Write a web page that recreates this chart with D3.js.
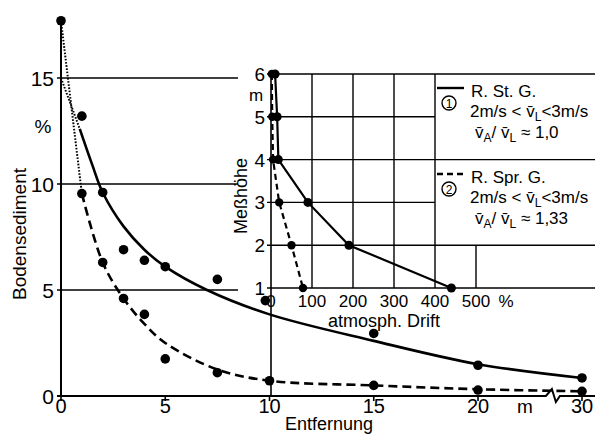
<!DOCTYPE html>
<html><head><meta charset="utf-8">
<script src="https://cdn.jsdelivr.net/npm/d3@7"></script>
<style>
html,body{margin:0;padding:0;background:#fff;}
svg{display:block;}
text{fill:#000;font-family:"Liberation Sans",Arial,sans-serif;}
.num{font-family:"Liberation Sans Narrow","Liberation Sans",sans-serif;}
</style></head>
<body>
<script>
// ---- data ----
const xTicks = [0, 5, 10, 15, 20, 30];
const yTicks = [0, 5, 10, 15];
const gridY = [5, 10, 15];
// fitted curves
const solidFitX = [0.9, 1.5, 2, 3, 4, 5, 7, 10, 15, 20, 30];
const solidFitY = [12.6, 10.9, 9.6, 8.0, 6.9, 6.1, 5.0, 3.85, 2.6, 1.5, 0.85];
const dashFitX = [1, 2, 3, 4, 5, 7.5, 10, 15, 20, 30];
const dashFitY = [9.55, 6.3, 4.6, 3.4, 2.5, 1.25, 0.72, 0.5, 0.32, 0.22];
// dotted extrapolations to the origin
const solidExtX = [0, 0.9], solidExtY = [15, 12.6];
const dashExtX = [0, 1], dashExtY = [17.7, 9.55];
// measured points
const solidPtX = [1, 2, 3, 4, 5, 7.5, 9.8, 15, 20, 30];
const solidPtY = [13.2, 9.6, 6.9, 6.4, 6.1, 5.5, 4.5, 2.95, 1.45, 0.85];
const dashPtX = [0, 1, 2, 3, 4, 5, 7.5, 10, 15, 20, 30];
const dashPtY = [17.7, 9.55, 6.3, 4.6, 3.85, 1.75, 1.1, 0.72, 0.5, 0.28, 0.22];
// inset: atmospheric drift vs measuring height
const driftTicks = [0, 100, 200, 300, 400, 500];
const heightTicks = [1, 2, 3, 4, 5, 6];
const stDrift = [10, 15, 18, 90, 190, 440];
const stHeight = [6, 5, 4, 3, 2, 1];
const sprDrift = [2, 3, 5, 20, 50, 78];
const sprHeight = [6, 5, 4, 3, 2, 1];

const W = 595, H = 435;
const svg = d3.select("body").append("svg").attr("width", W).attr("height", H);

// ---- scales ----
const x = d3.scaleLinear().domain([0, 20, 30]).range([61, 478, 582]);
const y = d3.scaleLinear().domain([0, 15]).range([396, 78]);
const ix = d3.scaleLinear().domain([0, 500]).range([271, 476]);
const iy = d3.scaleLinear().domain([1, 6]).range([288, 74]);

const ink = "#000";

// ---- main grid lines ----
svg.selectAll(".gy").data(gridY).enter().append("line")
  .attr("x1", 57).attr("x2", 238)
  .attr("y1", d => y(d)).attr("y2", d => y(d))
  .attr("stroke", ink).attr("stroke-width", 1.4);

// ---- inset grid ----
const fullH = [6, 4, 2, 1];
const shortH = [5, 3];
svg.selectAll(".ihf").data(fullH).enter().append("line")
  .attr("x1", ix(0) - 4).attr("x2", W)
  .attr("y1", d => iy(d)).attr("y2", d => iy(d))
  .attr("stroke", ink).attr("stroke-width", 1.4);
svg.selectAll(".ihs").data(shortH).enter().append("line")
  .attr("x1", ix(0) - 4).attr("x2", ix(400))
  .attr("y1", d => iy(d)).attr("y2", d => iy(d))
  .attr("stroke", ink).attr("stroke-width", 1.4);
svg.selectAll(".iv").data([100, 200, 300, 400]).enter().append("line")
  .attr("x1", d => ix(d)).attr("x2", d => ix(d))
  .attr("y1", iy(6)).attr("y2", iy(1))
  .attr("stroke", ink).attr("stroke-width", 1.4);
svg.append("line").attr("x1", ix(500)).attr("x2", ix(500))
  .attr("y1", iy(2)).attr("y2", iy(1)).attr("stroke", ink).attr("stroke-width", 1.4);
// inset zero axis, also x=10 line of main chart
svg.append("line").attr("x1", ix(0)).attr("x2", ix(0))
  .attr("y1", iy(6)).attr("y2", y(0)).attr("stroke", ink).attr("stroke-width", 1.6);

// ---- main axes ----
svg.append("line").attr("x1", x(0)).attr("x2", x(0))
  .attr("y1", y(0)).attr("y2", y(17.7)).attr("stroke", ink).attr("stroke-width", 2);
const bx = x(27.2), by = y(0);
const axisPath = d3.path();
axisPath.moveTo(57, by);
axisPath.lineTo(bx - 7, by);
axisPath.lineTo(bx - 1, by - 7);
axisPath.lineTo(bx + 3, by + 6);
axisPath.lineTo(bx + 7, by);
axisPath.lineTo(W, by);
svg.append("path").attr("d", axisPath.toString()).attr("fill", "none")
  .attr("stroke", ink).attr("stroke-width", 2).attr("stroke-linejoin", "miter");
svg.selectAll(".xt").data(xTicks).enter().append("line")
  .attr("x1", d => x(d)).attr("x2", d => x(d))
  .attr("y1", by).attr("y2", by + 5).attr("stroke", ink).attr("stroke-width", 1.6);

// tick labels
svg.selectAll(".xl").data(xTicks).enter().append("text").attr("class", "num")
  .attr("x", d => x(d)).attr("y", 413).attr("text-anchor", "middle")
  .attr("font-size", 20).text(d => d);
svg.append("text").attr("x", 525).attr("y", 413).attr("text-anchor", "middle")
  .attr("font-size", 19).text("m");
svg.selectAll(".yl").data(yTicks).enter().append("text").attr("class", "num")
  .attr("x", 54).attr("y", d => y(d) + 8).attr("text-anchor", "end")
  .attr("font-size", 21).text(d => d);
svg.append("text").attr("x", 43).attr("y", 133).attr("text-anchor", "middle")
  .attr("font-size", 19).text("%");
svg.append("text").attr("transform", "translate(26,234) rotate(-90)")
  .attr("text-anchor", "middle").attr("font-size", 19).text("Bodensediment");
svg.append("text").attr("x", 329).attr("y", 430).attr("text-anchor", "middle")
  .attr("font-size", 18).text("Entfernung");

// inset labels
svg.selectAll(".iyl").data(heightTicks).enter().append("text").attr("class", "num")
  .attr("x", 265).attr("y", d => iy(d) + 7).attr("text-anchor", "end")
  .attr("font-size", 19).text(d => d);
svg.append("text").attr("x", 256).attr("y", 101).attr("text-anchor", "middle")
  .attr("font-size", 17).text("m");
svg.selectAll(".ixl").data(driftTicks).enter().append("text").attr("class", "num")
  .attr("x", d => ix(d)).attr("y", 307).attr("text-anchor", "middle")
  .attr("font-size", 17).text(d => d);
svg.append("text").attr("x", 506).attr("y", 307).attr("text-anchor", "middle")
  .attr("font-size", 17).text("%");
svg.append("text").attr("x", 384).attr("y", 327).attr("text-anchor", "middle")
  .attr("font-size", 18).text("atmosph.  Drift");
svg.append("text").attr("transform", "translate(247,196) rotate(-90)")
  .attr("text-anchor", "middle").attr("font-size", 18).text("Meßhöhe");

// ---- main curves ----
const zipXY = (xs, ys) => xs.map((v, i) => [v, ys[i]]);
const curveLine = d3.line().x(d => x(d[0])).y(d => y(d[1])).curve(d3.curveCatmullRom.alpha(0.5));
svg.append("path").attr("d", curveLine(zipXY(solidFitX, solidFitY)))
  .attr("fill", "none").attr("stroke", ink).attr("stroke-width", 2.6);
svg.append("path").attr("d", curveLine(zipXY(dashFitX, dashFitY)))
  .attr("fill", "none").attr("stroke", ink).attr("stroke-width", 2.6)
  .attr("stroke-dasharray", "9,5");
const straight = d3.line().x(d => x(d[0])).y(d => y(d[1]));
svg.append("path").attr("d", straight(zipXY(solidExtX, solidExtY)))
  .attr("fill", "none").attr("stroke", ink).attr("stroke-width", 2).attr("stroke-dasharray", "1.6,1.6");
svg.append("path").attr("d", straight(zipXY(dashExtX, dashExtY)))
  .attr("fill", "none").attr("stroke", ink).attr("stroke-width", 2).attr("stroke-dasharray", "1.6,1.6");

svg.selectAll(".sp").data(zipXY(solidPtX, solidPtY)).enter().append("circle")
  .attr("cx", d => x(d[0])).attr("cy", d => y(d[1])).attr("r", 4.8).attr("fill", ink);
svg.selectAll(".dp").data(zipXY(dashPtX, dashPtY)).enter().append("circle")
  .attr("cx", d => x(d[0])).attr("cy", d => y(d[1])).attr("r", 4.8).attr("fill", ink);

// ---- inset lines ----
const iline = d3.line().x(d => ix(d[0])).y(d => iy(d[1]));
svg.append("path").attr("d", iline(zipXY(stDrift, stHeight)))
  .attr("fill", "none").attr("stroke", ink).attr("stroke-width", 2.2);
svg.append("path").attr("d", iline(zipXY(sprDrift, sprHeight)))
  .attr("fill", "none").attr("stroke", ink).attr("stroke-width", 2.2).attr("stroke-dasharray", "6,4");
svg.selectAll(".isp").data(zipXY(stDrift, stHeight)).enter().append("circle")
  .attr("cx", d => ix(d[0])).attr("cy", d => iy(d[1])).attr("r", 4.5).attr("fill", ink);
svg.selectAll(".idp").data(zipXY(sprDrift, sprHeight)).enter().append("circle")
  .attr("cx", d => ix(d[0])).attr("cy", d => iy(d[1])).attr("r", 4.2).attr("fill", ink);

// ---- legend ----
function legendBlock(y0, dashed, num, name, ratio) {
  svg.append("line").attr("x1", 437).attr("x2", 464).attr("y1", y0).attr("y2", y0)
    .attr("stroke", ink).attr("stroke-width", 2.4)
    .attr("stroke-dasharray", dashed ? "6,4" : null);
  svg.append("text").attr("x", 471).attr("y", y0 + 9).attr("font-size", 17).text(name);
  svg.append("circle").attr("cx", 449).attr("cy", y0 + 15).attr("r", 7)
    .attr("fill", "none").attr("stroke", ink).attr("stroke-width", 1.4);
  svg.append("text").attr("x", 449).attr("y", y0 + 19.5).attr("text-anchor", "middle")
    .attr("font-size", 12).text(num);
  const t2 = svg.append("text").attr("x", 470).attr("y", y0 + 29).attr("font-size", 17);
  t2.append("tspan").text("2m/s < v\u0304");
  t2.append("tspan").attr("dy", 4).attr("font-size", 12).text("L");
  t2.append("tspan").attr("dy", -4).text("<3m/s");
  const t3 = svg.append("text").attr("x", 475).attr("y", y0 + 50).attr("font-size", 17);
  t3.append("tspan").text("v\u0304");
  t3.append("tspan").attr("dy", 4).attr("font-size", 12).text("A");
  t3.append("tspan").attr("dy", -4).text("/ v\u0304");
  t3.append("tspan").attr("dy", 4).attr("font-size", 12).text("L");
  t3.append("tspan").attr("dy", -4).text(" \u2248 " + ratio);
}
legendBlock(88, false, "1", "R. St. G.", "1,0");
legendBlock(174, true, "2", "R. Spr. G.", "1,33");
</script>
</body></html>
